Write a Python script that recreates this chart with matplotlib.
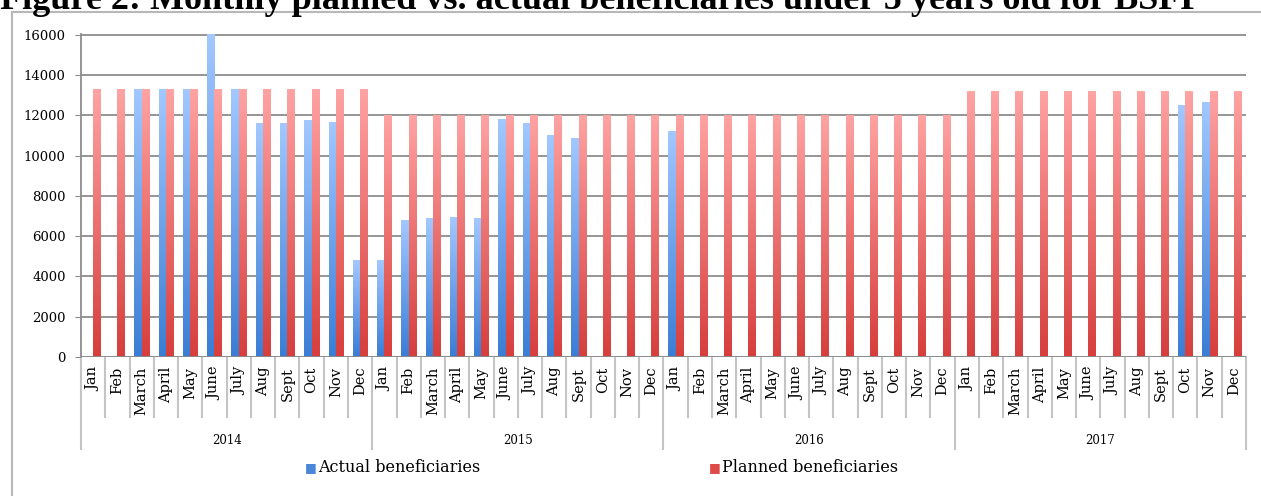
import matplotlib
matplotlib.use("Agg")
import matplotlib.pyplot as plt
import matplotlib.transforms as mtransforms
from matplotlib.colors import LinearSegmentedColormap
import numpy as np

years = ["2014", "2015", "2016", "2017"]
months = ["Jan", "Feb", "March", "April", "May", "June",
          "July", "Aug", "Sept", "Oct", "Nov", "Dec"]

actual = [
    0, 0, 13300, 13300, 13300, 16000, 13300, 11570, 11570, 11730, 11650, 4770,
    4770, 6780, 6870, 6910, 6870, 11780, 11570, 10990, 10830, 0, 0, 0,
    11200, 0, 0, 0, 0, 0, 0, 0, 0, 0, 0, 0,
    0, 0, 0, 0, 0, 0, 0, 0, 0, 12480, 12640, 0,
]
planned = [13300] * 12 + [12000] * 12 + [12000] * 12 + [13200] * 12

blue_grad = LinearSegmentedColormap.from_list("blue_grad", ["#3b7dd5", "#a2c8ff"])
red_grad = LinearSegmentedColormap.from_list("red_grad", ["#d63e3c", "#ffa3a3"])

serif = "DejaVu Serif"
grid_col = "#8c8c8c"
sep_col = "#c4c4c4"

fig = plt.figure(figsize=(12.61, 4.96), dpi=100)
ax = fig.add_axes([81 / 1261, 1 - 357 / 496, (1246 - 81) / 1261, (357 - 34) / 496])

x = np.arange(len(planned))
w = 0.30
bars_a = ax.bar(x - w / 2, actual, width=w, color="none", zorder=3)
bars_p = ax.bar(x + w / 2, planned, width=w, color="none", zorder=3)

# vertical gradient fill for every bar, dark at the base and light at the top
grad = np.linspace(0, 1, 256).reshape(-1, 1)
for bars, cmap in [(bars_a, blue_grad), (bars_p, red_grad)]:
    for b in bars:
        h = b.get_height()
        if h <= 0:
            continue
        x0 = b.get_x()
        ax.imshow(grad, cmap=cmap, origin="lower", aspect="auto",
                  extent=[x0, x0 + b.get_width(), 0, h], zorder=3,
                  interpolation="bilinear")

ax.set_xlim(-0.5, len(planned) - 0.5)
ax.set_ylim(0, 16000 * 1.002)
ax.set_yticks(np.arange(0, 16001, 2000))
ax.set_yticklabels([str(v) for v in range(0, 16001, 2000)],
                   fontsize=9.5, family=serif)
ax.yaxis.grid(True, color=grid_col, linewidth=1.3, zorder=1)
ax.set_axisbelow(True)
ax.tick_params(axis="y", length=4, color=grid_col, pad=7)

for side in ["top", "right", "bottom"]:
    ax.spines[side].set_visible(False)
ax.spines["left"].set_color(grid_col)
ax.spines["left"].set_linewidth(1.3)
ax.axhline(0, color=grid_col, linewidth=1.3, zorder=4)

ax.set_xticks(x)
ax.set_xticklabels(months * len(years), rotation=90, fontsize=10.5,
                   family=serif, va="top", ha="center")
ax.tick_params(axis="x", length=0, pad=7)

# two-level category axis: month separators and longer year separators
trans = mtransforms.blended_transform_factory(ax.transData, ax.transAxes)
ax_h = 357 - 34
for i in range(len(planned) + 1):
    xb = i - 0.5
    low = -92 / ax_h if i % 12 == 0 else -60 / ax_h
    ax.plot([xb, xb], [0, low], transform=trans, color=sep_col,
            linewidth=1.5, clip_on=False, zorder=2)

for k, yr in enumerate(years):
    ax.text(k * 12 + 5.5, -84 / ax_h, yr, transform=trans, ha="center",
            va="center", fontsize=8.5, family=serif)

# legend drawn as two square markers with labels
fig.text(311 / 1261, 1 - 468 / 496, "\u25a0", color="#4a86d8", fontsize=9,
         ha="center", va="center")
fig.text(318 / 1261, 1 - 468 / 496, "Actual beneficiaries", fontsize=11.5,
         family=serif, ha="left", va="center")
fig.text(715 / 1261, 1 - 468 / 496, "\u25a0", color="#de4a48", fontsize=9,
         ha="center", va="center")
fig.text(722 / 1261, 1 - 468 / 496, "Planned beneficiaries", fontsize=11.5,
         family=serif, ha="left", va="center")

# outer chart frame
fig.add_artist(plt.Line2D([12 / 1261, 1], [1 - 12 / 496, 1 - 12 / 496],
                          transform=fig.transFigure, color="#b8b8b8", linewidth=1.5))
fig.add_artist(plt.Line2D([12 / 1261, 12 / 1261], [0, 1 - 12 / 496],
                          transform=fig.transFigure, color="#b8b8b8", linewidth=1.5))

fig.text(0.0, 1 - 9 / 496,
         "Figure 2: Monthly planned vs. actual beneficiaries under 5 years old for BSFP",
         fontsize=26, fontweight="bold", family="Liberation Serif",
         ha="left", va="baseline")

fig.savefig("out.png", dpi=100)
